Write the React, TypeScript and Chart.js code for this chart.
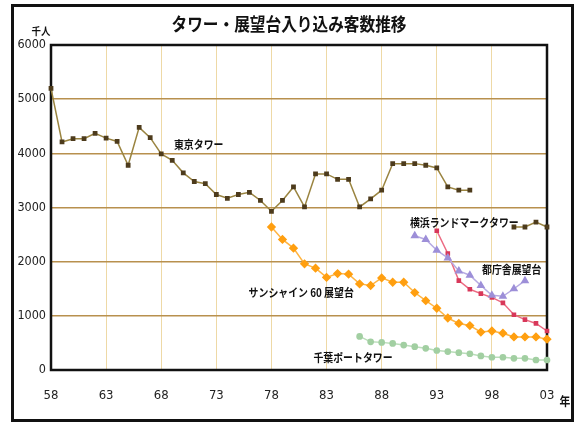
import React, { useEffect, useRef } from "react";
import { Chart, registerables } from "chart.js";
Chart.register(...registerables);

// ---- data ----
const xTickYears = [1958, 1963, 1968, 1973, 1978, 1983, 1988, 1993, 1998, 2003];
const xTickLabels = ["58", "63", "68", "73", "78", "83", "88", "93", "98", "03"];
const yTickValues = [0, 1000, 2000, 3000, 4000, 5000, 6000];

const tokyoStart = 1958;
const tokyoTower = [
  5200, 4210, 4270, 4270, 4370, 4280, 4220, 3780, 4480, 4290,
  3990, 3870, 3640, 3480, 3440, 3240, 3170, 3240, 3280, 3130,
  2930, 3130, 3380, 3010, 3620, 3620, 3520, 3520, 3010, 3160,
  3320, 3810, 3810, 3810, 3780, 3730, 3380, 3320, 3320, null,
  null, null, 2640, 2640, 2730, 2640,
];
const sunshineStart = 1978;
const sunshine60 = [
  2640, 2410, 2250, 1960, 1880, 1710, 1780, 1770, 1590, 1560,
  1700, 1620, 1620, 1430, 1280, 1140, 960, 860, 820, 700,
  720, 680, 610, 610, 610, 570,
];
const chibaStart = 1986;
const chibaPort = [
  620, 520, 510, 490, 460, 430, 400, 360, 340, 320,
  300, 260, 235, 235, 215, 215, 185, 185,
];
const yokohamaStart = 1993;
const yokohamaLandmark = [2570, 2150, 1650, 1490, 1410, 1340, 1240, 1020, 930, 860, 720];
const tochoStart = 1991;
const tocho = [2480, 2410, 2210, 2070, 1830, 1750, 1560, 1380, 1360, 1500, 1650];

const seriesNames = ["東京タワー", "サンシャイン 60 展望台", "千葉ポートタワー", "横浜ランドマークタワー", "都庁舎展望台"];
// label anchors in data coordinates (year, value)
const labelYears = [1971.4, 1980.7, 1985.4, 1995.5, 1999.8];
const labelValues = [4170, 1420, 220, 2730, 1850];

const titleText = "タワー・展望台入り込み客数推移";
const yUnit = "千人";
const xUnit = "年";

const NARROW = "'Liberation Sans Narrow', 'DejaVu Sans Condensed', 'Liberation Sans', sans-serif";
const JP = "'Noto Sans CJK JP', 'Noto Sans', sans-serif";

const toPoints = (start: number, arr: (number | null)[]) =>
  arr.map((v, i) => ({ x: start + i, y: v }));

function drawText(ctx: CanvasRenderingContext2D, text: string, x: number, y: number, size: number, sx: number, align: CanvasTextAlign = "center") {
  ctx.save();
  ctx.font = `bold ${size}px ${JP}`;
  ctx.fillStyle = "#111";
  ctx.textBaseline = "middle";
  ctx.textAlign = align;
  ctx.translate(x, y);
  ctx.scale(sx, 1);
  ctx.fillText(text, 0, 0);
  ctx.restore();
}

const decoPlugin = {
  id: "deco",
  beforeDraw(chart: any) {
    const ctx = chart.ctx;
    ctx.save();
    ctx.fillStyle = "#fff";
    ctx.fillRect(0, 0, chart.width, chart.height);
    ctx.restore();
  },
  beforeDatasetsDraw(chart: any) {
    const { ctx, chartArea: a } = chart;
    ctx.save();
    ctx.strokeStyle = "#111";
    ctx.lineWidth = 2.5;
    ctx.strokeRect(a.left, a.top, a.right - a.left, a.bottom - a.top);
    ctx.restore();
  },
  afterDatasetsDraw(chart: any) {
    const ctx = chart.ctx;
    const xs = chart.scales.x;
    const ys = chart.scales.y;
    seriesNames.forEach((name, i) => {
      drawText(ctx, name, xs.getPixelForValue(labelYears[i]), ys.getPixelForValue(labelValues[i]), 11.5, 0.86);
    });
    drawText(ctx, titleText, 289, 24, 18, 0.87);
    drawText(ctx, yUnit, 41, 31, 10.5, 0.9);
    drawText(ctx, xUnit, 565, 401, 12, 0.9);
    ctx.save();
    ctx.strokeStyle = "#111";
    ctx.lineWidth = 3;
    ctx.strokeRect(12.5, 5.5, 560, 415);
    ctx.restore();
  },
};

export default function App() {
  const ref = useRef<HTMLCanvasElement | null>(null);
  useEffect(() => {
    document.body.style.margin = "0";
    if (!ref.current) return;
    const chart = new Chart(ref.current, {
      type: "line",
      data: {
        datasets: [
          {
            label: seriesNames[4],
            data: toPoints(tochoStart, tocho),
            borderColor: "#b6aae2",
            backgroundColor: "#9d8fd8",
            pointBackgroundColor: "#9d8fd8",
            pointBorderColor: "#9d8fd8",
            pointStyle: "triangle",
            pointRadius: 3.5,
            borderWidth: 1.5,
            clip: false,
          },
          {
            label: seriesNames[3],
            data: toPoints(yokohamaStart, yokohamaLandmark),
            borderColor: "#ec6a82",
            backgroundColor: "#d8385a",
            pointBackgroundColor: "#d8385a",
            pointBorderColor: "#d8385a",
            pointStyle: "rect",
            pointRadius: 2.2,
            borderWidth: 1.5,
            clip: false,
          },
          {
            label: seriesNames[0],
            data: toPoints(tokyoStart, tokyoTower),
            borderColor: "#9a8440",
            backgroundColor: "#4d3b1c",
            pointBackgroundColor: "#4d3b1c",
            pointBorderColor: "#4d3b1c",
            pointStyle: "rect",
            pointRadius: 2.3,
            borderWidth: 1.5,
            spanGaps: false,
            clip: false,
          },
          {
            label: seriesNames[1],
            data: toPoints(sunshineStart, sunshine60),
            borderColor: "#ffb440",
            backgroundColor: "#ff9f10",
            pointBackgroundColor: "#ff9f10",
            pointBorderColor: "#ff9f10",
            pointStyle: "rectRot",
            pointRadius: 3.6,
            borderWidth: 1.5,
            clip: false,
          },
          {
            label: seriesNames[2],
            data: toPoints(chibaStart, chibaPort),
            borderColor: "#b9ddb9",
            backgroundColor: "#a2cfa2",
            pointBackgroundColor: "#a2cfa2",
            pointBorderColor: "#a2cfa2",
            pointStyle: "circle",
            pointRadius: 2.6,
            borderWidth: 1.5,
            clip: false,
          },
        ],
      },
      options: {
        animation: false,
        responsive: false,
        layout: { padding: { top: 45, right: 32, bottom: 0, left: 0 } },
        plugins: {
          legend: { display: false },
          tooltip: { enabled: false },
        },
        scales: {
          x: {
            type: "linear",
            min: 1958,
            max: 2003,
            afterBuildTicks: (s: any) => {
              s.ticks = xTickYears.map((v) => ({ value: v }));
            },
            afterFit: (s: any) => {
              s.height = 54;
            },
            ticks: {
              autoSkip: false,
              maxRotation: 0,
              padding: 18,
              color: "#222",
              font: { family: NARROW, size: 13 },
              callback: (v: any) => xTickLabels[xTickYears.indexOf(Number(v))] ?? "",
            },
            grid: { color: "#eed9a6", lineWidth: 1, drawTicks: false },
            border: { display: false },
          },
          y: {
            min: 0,
            max: 6000,
            afterBuildTicks: (s: any) => {
              s.ticks = yTickValues.map((v) => ({ value: v }));
            },
            afterFit: (s: any) => {
              s.width = 51;
            },
            ticks: {
              padding: 5,
              color: "#222",
              font: { family: NARROW, size: 12.5 },
              callback: (v: any) => String(v),
            },
            grid: { color: "#b8904e", lineWidth: 1.5, drawTicks: false },
            border: { display: false },
          },
        },
      },
      plugins: [decoPlugin],
    } as any);
    return () => chart.destroy();
  }, []);
  return <canvas ref={ref} width={579} height={424} style={{ display: "block" }} />;
}
